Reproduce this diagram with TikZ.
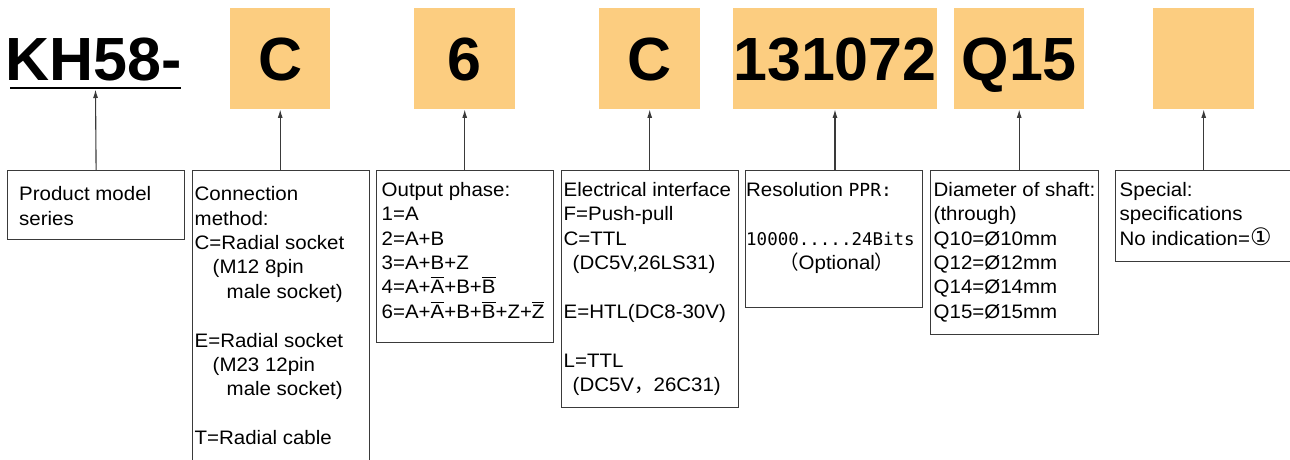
\documentclass[tikz,border=0pt]{standalone}
\usepackage{fontspec}
\setmainfont{Liberation Sans}
\newfontfamily\txtf{Liberation Sans}[FakeStretch=1.05]
\newfontfamily\monof{DejaVu Sans Mono}
\newfontfamily\symf{DejaVu Sans}
\newfontfamily\cjk{Noto Sans CJK SC}
\usetikzlibrary{arrows.meta}
\definecolor{orng}{HTML}{FCCD80}
\definecolor{lnc}{HTML}{3A3A3A}
\newcommand\ovl[1]{\leavevmode\vbox{\hrule height 1pt\kern 2.2pt\hbox{#1}}}
\newcommand\fst{\rule{0pt}{16pt}}
\begin{document}
\begin{tikzpicture}[x=1pt,y=-1pt,
  obox/.style={fill=orng,draw=none,anchor=north west,inner sep=0pt,
    font=\fontsize{61}{61}\selectfont\bfseries,text height=43pt,text depth=0pt},
  pbox/.style={draw=lnc,line width=1.2pt,anchor=north west,inner sep=0pt},
  ptext/.style={anchor=north west,inner sep=0pt,align=left,
    font=\txtf\fontsize{19.5}{24.4}\selectfont},
  arr/.style={draw=lnc,line width=1.1pt,-{Latex[length=8.5pt,width=5pt]}}]
\useasboundingbox (0,0) rectangle (1290,459);
\clip (0,0) rectangle (1290,459);
% top row
\node[anchor=base west,inner sep=0pt,font=\fontsize{61}{61}\selectfont\bfseries] (kh) at (5.5,80) {KH58-};
\draw[line width=2.6pt] (10,88) -- (181,88);
\coordinate (ul) at (95.5,89.5);
\node[obox,minimum width=100pt,minimum height=101pt] (o1) at (230,8) {C};
\node[obox,minimum width=101pt,minimum height=101pt] (o2) at (414,8) {6};
\node[obox,minimum width=101pt,minimum height=101pt] (o3) at (599,8) {C};
\node[obox,minimum width=202pt,minimum height=101pt] (o4) at (733,8) {131072};
\node[obox,minimum width=130pt,minimum height=101pt] (o5) at (954,8) {Q15};
\node[obox,minimum width=101pt,minimum height=101pt] (o6) at (1153,8) {};
% bottom boxes
\node[pbox,minimum width=177pt,minimum height=69pt] (b1) at (7,170) {};
\node[pbox,minimum width=177pt,minimum height=300pt] (b2) at (192,170) {};
\node[pbox,minimum width=177pt,minimum height=172pt] (b3) at (376,170) {};
\node[pbox,minimum width=177pt,minimum height=237pt] (b4) at (561,170) {};
\node[pbox,minimum width=177pt,minimum height=137pt] (b5) at (745,170) {};
\node[pbox,minimum width=168pt,minimum height=164pt] (b6) at (930,170) {};
\node[pbox,minimum width=190pt,minimum height=91pt] (b7) at (1115,170) {};
% texts
\node[ptext] (t1) at (19,184.5) {\fst Product model\\series};
\node[ptext] (t2) at (194.5,184.5) {\fst Connection\\method:\\C=Radial socket\\
  \hspace*{18pt}(M12 8pin\\\hspace*{32pt}male socket)\\[24.4pt]
  E=Radial socket\\\hspace*{18pt}(M23 12pin\\\hspace*{32pt}male socket)\\[24.4pt]
  T=Radial cable};
\node[ptext] (t3) at (381.5,180) {\fst Output phase:\\1=A\\2=A+B\\3=A+B+Z\\
  4=A+\ovl{A}+B+\ovl{B}\\6=A+\ovl{A}+B+\ovl{B}+Z+\ovl{Z}};
\node[ptext] (t4) at (563.5,180) {\fst Electrical interface\\F=Push-pull\\C=TTL\\
  \hspace*{9pt}(DC5V,26LS31)\\[24.4pt]E=HTL(DC8-30V)\\[24.4pt]L=TTL\\
  \hspace*{9pt}(DC5V{\cjk ，}26C31)};
\node[ptext] (t5) at (746,180) {\fst Resolution {\monof\fontsize{18}{24.4}\selectfont PPR:}\\[24.4pt]
  {\monof\fontsize{17.5}{24.4}\selectfont 10000.....24Bits}\\
  \hspace*{33pt}{\cjk （}Optional{\cjk ）}};
\node[ptext] (t6) at (933.5,180) {\fst Diameter of shaft:\\(through)\\Q10=Ø10mm\\Q12=Ø12mm\\Q14=Ø14mm\\Q15=Ø15mm};
\node[ptext] (t7) at (1119.5,180) {\fst Special:\\specifications\\No indication={\symf\fontsize{24}{24.4}\selectfont ①}};
% connectors
\draw[arr] (b1.north) -- (ul);
\draw[arr] (b2.north -| o1.south) -- (o1.south);
\draw[arr] (b3.north -| o2.south) -- (o2.south);
\draw[arr] (b4.north -| o3.south) -- (o3.south);
\draw[arr] (b5.north -| o4.south) -- (o4.south);
\draw[arr] (b6.north -| o5.south) -- (o5.south);
\draw[arr] (b7.north -| o6.south) -- (o6.south);
\end{tikzpicture}
\end{document}
